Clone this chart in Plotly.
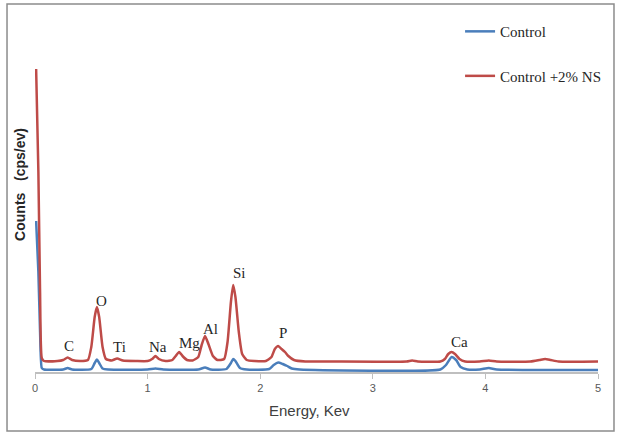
import plotly.graph_objects as go

# EDS spectra: energy (keV) vs counts (arbitrary units, cps/eV)
control_energy = [0.01, 0.03, 0.045, 0.06, 0.08, 0.25, 0.29, 0.33, 0.50, 0.53, 0.55, 0.57, 0.60,
                  0.65, 1.00, 1.07, 1.14, 1.45, 1.51, 1.56, 1.70, 1.74, 1.76, 1.78, 1.82, 1.88,
                  2.08, 2.12, 2.16, 2.20, 2.24, 2.28, 2.35, 3.60, 3.65, 3.70, 3.74, 3.78, 3.84,
                  3.95, 4.03, 4.10, 5.00]
control_counts = [151, 100, 40, 4, 2.5, 2.5, 4, 2.5, 3, 9, 12.5, 9, 3.5,
                  2.5, 2.5, 3.5, 2.5, 2.5, 4.5, 2.5, 3, 9, 13, 11, 4, 2.5,
                  3, 7, 9.5, 8, 6, 3.5, 2.5, 2.5, 7, 15, 12, 5, 2.5,
                  2.5, 4, 2.5, 2]

ns_energy = [0.01, 0.03, 0.045, 0.06, 0.08, 0.20, 0.25, 0.29, 0.33, 0.40, 0.47, 0.50, 0.53, 0.55,
             0.57, 0.60, 0.63, 0.68, 0.73, 0.78, 0.90, 1.00, 1.04, 1.07, 1.10, 1.16, 1.22, 1.25,
             1.28, 1.31, 1.35, 1.40, 1.45, 1.48, 1.51, 1.54, 1.58, 1.62, 1.68, 1.71, 1.74, 1.76,
             1.78, 1.81, 1.84, 1.88, 1.95, 2.05, 2.10, 2.13, 2.16, 2.19, 2.22, 2.25, 2.30, 2.40,
             2.60, 3.30, 3.35, 3.40, 3.60, 3.64, 3.67, 3.70, 3.73, 3.77, 3.82, 3.95, 4.03, 4.10,
             4.40, 4.48, 4.53, 4.58, 4.65, 5.00]
ns_counts = [303, 200, 80, 14, 11, 11, 12, 14.5, 12, 11, 12, 25, 55, 65,
             55, 25, 13, 11.5, 13.5, 11.5, 11, 11, 13, 16, 13, 11, 12, 16,
             20, 16, 12, 11.5, 15, 27, 36, 28, 16, 12, 13, 30, 70, 87,
             75, 40, 18, 12, 11, 11, 15, 23, 26, 23, 20, 16, 12, 10.5,
             10.5, 10.5, 11.5, 10.5, 10.5, 13, 18, 20, 18, 13, 10.5, 10.5, 11.5, 10.5,
             10.5, 12, 13, 12, 10.5, 10.5]

# element labels placed above their peaks
element_names = ["C", "O", "Ti", "Na", "Mg", "Al", "Si", "P", "Ca"]
element_energy = [0.30, 0.59, 0.75, 1.09, 1.37, 1.56, 1.82, 2.20, 3.77]
element_counts = [26, 71, 25, 25, 29, 43, 99, 39, 30]

x_ticks = [0, 1, 2, 3, 4, 5]

BLUE = "#4a7ebb"
RED = "#be4b48"

fig = go.Figure()
fig.add_trace(go.Scatter(
    x=control_energy, y=control_counts, mode="lines", name="Control",
    line=dict(color=BLUE, width=2.5, shape="spline", smoothing=0.5),
    legendgroup="a",
))
fig.add_trace(go.Scatter(
    x=ns_energy, y=ns_counts, mode="lines", name="Control +2% NS",
    line=dict(color=RED, width=2.5, shape="spline", smoothing=0.5),
    legendgroup="b",
))

for name, ex, cy in zip(element_names, element_energy, element_counts):
    fig.add_annotation(x=ex, y=cy, text=name, showarrow=False,
                       font=dict(family="Liberation Serif", size=15, color="#262626"))

# axis titles
fig.add_annotation(xref="paper", yref="paper", x=0.488, y=-0.117, text="Energy, Kev",
                   xanchor="center", yanchor="middle", showarrow=False,
                   font=dict(family="Liberation Sans", size=15, color="#404040"))
fig.add_annotation(xref="paper", yref="paper", x=-0.027, y=0.566,
                   text="<b>Counts&nbsp;&nbsp;&nbsp;(cps/ev)</b>",
                   xanchor="center", yanchor="middle", textangle=-90, showarrow=False,
                   font=dict(family="Liberation Sans", size=14, color="#262626"))

# outer frame
fig.add_shape(type="rect", xref="paper", yref="paper", x0=-0.0497, x1=1.0284, y0=-0.1777, y1=1.1084,
              line=dict(color="#8c8c8c", width=1.5))

fig.update_layout(
    width=621, height=435,
    margin=dict(l=35, r=23, t=40, b=63),
    paper_bgcolor="white", plot_bgcolor="white",
    showlegend=True,
    legend=dict(x=0.755, y=1.075, xanchor="left", yanchor="top",
                font=dict(family="Liberation Serif", size=15, color="#262626"),
                tracegroupgap=22, traceorder="grouped", bgcolor="rgba(0,0,0,0)"),
    xaxis=dict(range=[0, 5], tickvals=x_ticks, showgrid=False, zeroline=False,
               showline=True, linecolor="#bfbfbf", linewidth=1.5,
               ticks="outside", ticklen=5, tickcolor="#bfbfbf",
               tickfont=dict(family="Liberation Sans", size=11, color="#595959")),
    yaxis=dict(range=[0, 332], visible=False, showgrid=False, zeroline=False),
)

fig.write_html("out.html")
